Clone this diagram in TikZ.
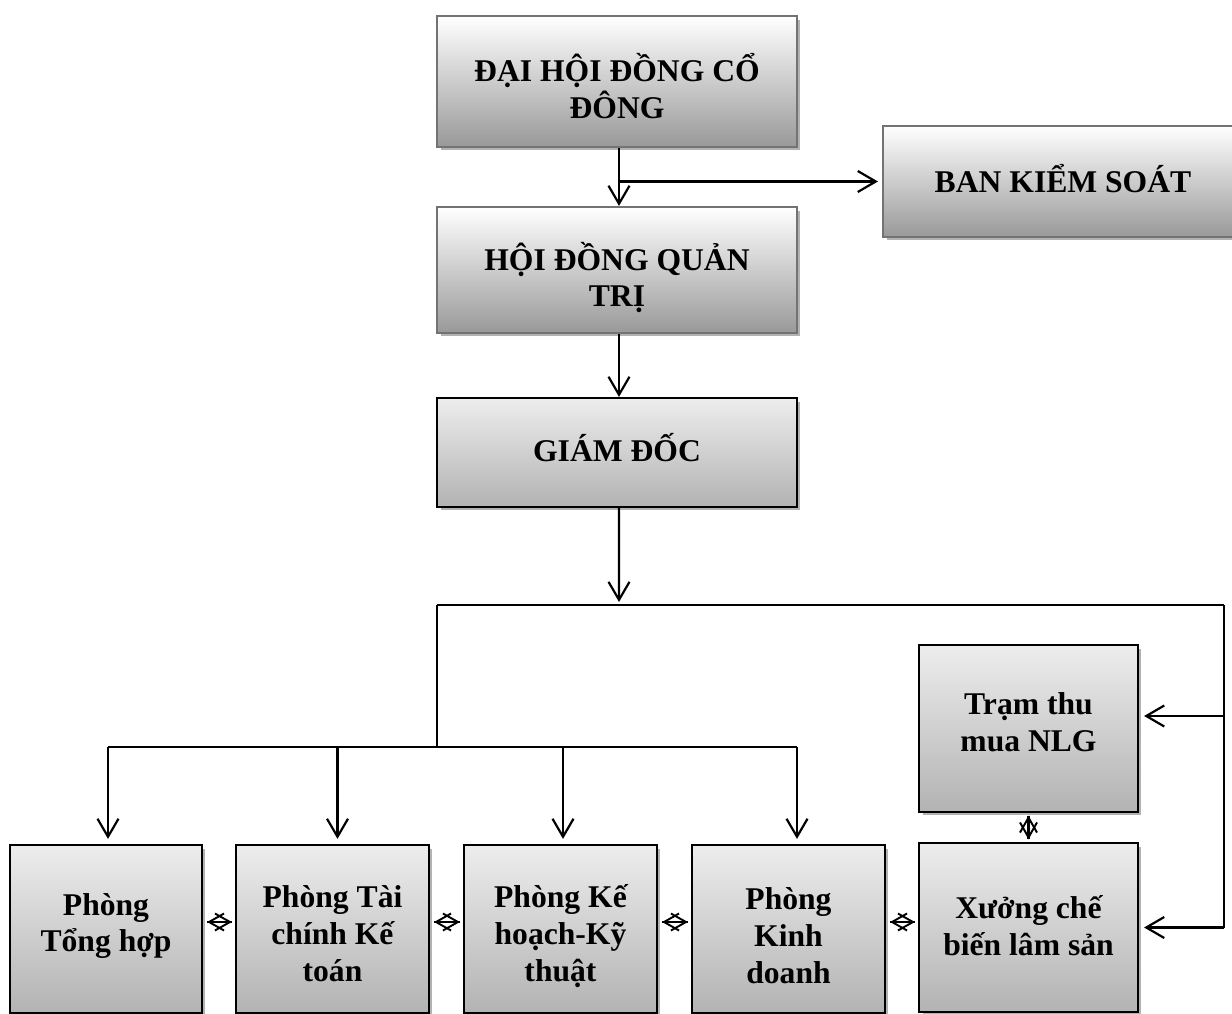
\documentclass[tikz,border=0pt]{standalone}
\usepackage{fontspec}
\setmainfont{Liberation Serif}
\usetikzlibrary{arrows.meta,shadows}

\begin{document}
\begin{tikzpicture}[x=0.02cm,y=-0.02cm,line width=1.25pt,
	hop/.style={draw=black!55, top color=white, bottom color=black!40,
		drop shadow={shadow xshift=0.07cm,shadow yshift=-0.07cm,fill=black!30,opacity=1}},
	phong/.style={hop, draw=black, top color=black!7, bottom color=black!30},
	chu/.style={align=center, inner sep=0pt, font=\bfseries\fontsize{18}{21}\selectfont},
	muiten/.style={-{Straight Barb[length=3.6mm,width=4.2mm]}},
	dau/.style={-{Straight Barb[length=3mm,width=3.4mm]}, line width=1.1pt}]
	\def\bw{7.2cm};
	\def\ph{3.36cm};
	\useasboundingbox (0,0) rectangle (1232,1014);

	% khoi lanh dao
	\node[hop, minimum width=\bw, minimum height=2.62cm] (dhdcd) at (617,81.5) {};
	\node[hop, minimum width=\bw, minimum height=2.22cm] (bks) at (1063,181.5) {};
	\node[hop, minimum width=\bw, minimum height=2.52cm] (hdqt) at (617,270) {};
	\node[phong, minimum width=\bw, minimum height=2.18cm] (gd) at (617,452.5) {};
	\node[chu] (dhdcd-t) at (617,86.5) {ĐẠI HỘI ĐỒNG CỔ\\ĐÔNG};
	\node[chu] (bks-t) at (1063,178.5) {BAN KIỂM SOÁT};
	\node[chu] (hdqt-t) at (617,277.5) {HỘI ĐỒNG QUẢN\\TRỊ};
	\node[chu] (gd-t) at (617,447.5) {GIÁM ĐỐC};

	% cac phong ban
	\node[phong, minimum width=4.38cm, minimum height=3.34cm] (tram) at (1028.5,728.5) {};
	\node[phong, minimum width=3.84cm, minimum height=\ph] (th) at (106,929) {};
	\node[phong, minimum width=3.86cm, minimum height=\ph] (tc) at (332.5,929) {};
	\node[phong, minimum width=3.86cm, minimum height=\ph] (kh) at (560.5,929) {};
	\node[phong, minimum width=3.86cm, minimum height=\ph] (kd) at (788.5,929) {};
	\node[phong, minimum width=4.38cm, minimum height=3.38cm] (xg) at (1028.5,927.5) {};
	\node[chu] (tram-t) at (1028.5,722.5) {Trạm thu\\mua NLG};
	\node[chu] (th-t) at (106,926) {Phòng\\Tổng hợp};
	\node[chu] (tc-t) at (332.5,934) {Phòng Tài\\chính Kế\\toán};
	\node[chu] (kh-t) at (560.5,936) {Phòng Kế\\hoạch-Kỹ\\thuật};
	\node[chu] (kd-t) at (788.5,936) {Phòng\\Kinh\\doanh};
	\node[chu] (xg-t) at (1028.5,925.5) {Xưởng chế\\biến lâm sản};

	\coordinate (chia) at (619,602);
	\coordinate (trai) at (437,605);
	\coordinate (phai) at (1224,605);
	\coordinate (giua) at (437,747);

	\draw[muiten] ([xshift=0.04cm]dhdcd.south) -- ([xshift=0.04cm]hdqt.north);
	\draw[muiten] ([xshift=0.04cm]dhdcd.south |- bks.west) -- ([xshift=-0.08cm]bks.west);
	\draw[muiten] ([xshift=0.04cm]hdqt.south) -- ([xshift=0.04cm]gd.north);
	\draw[muiten] ([xshift=0.04cm]gd.south) -- (chia);
	\draw (trai) -- (phai);
	\draw (trai) -- (giua);
	\draw ([xshift=0.04cm]th.north |- giua) -- ([xshift=0.17cm]kd.north |- giua);
	\foreach \p/\d in {th/0.04,tc/0.1,kh/0.05,kd/0.17}
		\draw[muiten, shorten >=0.1cm] ([xshift=\d cm]\p.north |- giua) -- ([xshift=\d cm]\p.north);
	\draw (phai) -- (phai |- xg.east);
	\draw[muiten, shorten >=0.1cm] (phai |- xg.east) -- (xg.east);
	\draw[muiten, shorten >=0.1cm] (phai |- 0,716) -- (tram.east |- 0,716);

	% mui ten hai chieu giua cac phong
	\foreach \a/\b in {th/tc,tc/kh,kh/kd,kd/xg} {
		\path ([xshift=0.08cm]\a.east |- 0,922) coordinate (u) ([xshift=-0.06cm]\b.west |- 0,922) coordinate (v);
		\draw (u) -- (v);
		\draw[dau] (u) -- (v);
		\draw[dau] (v) -- (u);
	}
	\path ([yshift=-0.05cm]tram.south) coordinate (u) ([yshift=0.05cm]xg.north) coordinate (v);
	\draw (u) -- (v);
	\draw[dau] (u) -- (v);
	\draw[dau] (v) -- (u);
\end{tikzpicture}
\end{document}
